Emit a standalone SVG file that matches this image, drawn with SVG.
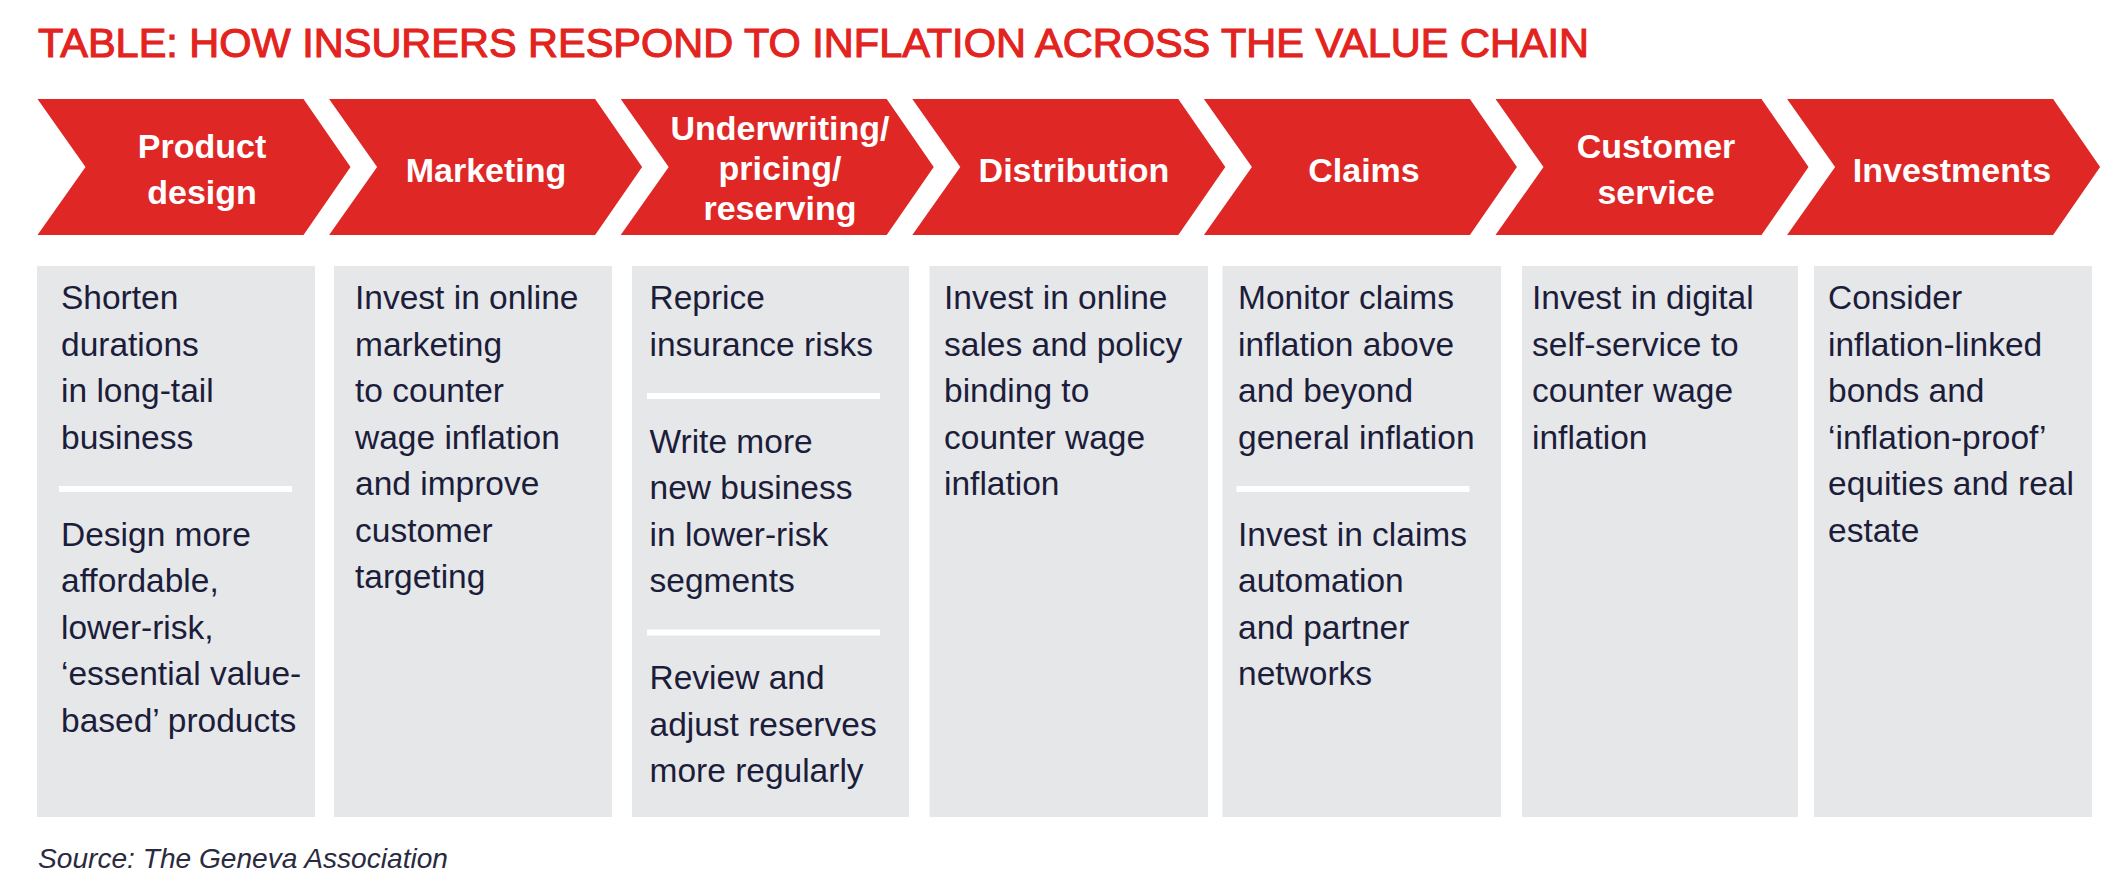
<svg xmlns="http://www.w3.org/2000/svg" width="2126" height="895" viewBox="0 0 2126 895">
<style>
.title{font-family:"Liberation Sans",Arial,sans-serif;font-size:41px;fill:#E2231E;stroke:#E2231E;stroke-width:1.1}
.chev{fill:#DF2726}
.lab{font-family:"Liberation Sans",Arial,sans-serif;font-size:34px;font-weight:bold;fill:#FFFFFF;text-anchor:middle}
.box{fill:#E6E7E8}
.txt{font-family:"Liberation Sans",Arial,sans-serif;font-size:33.5px;fill:#1C1D3B}
.sep{fill:#FFFFFF}
.src{font-family:"Liberation Sans",Arial,sans-serif;font-size:28px;font-style:italic;fill:#2A2B40}
</style>
<rect width="2126" height="895" fill="#FFFFFF"/>
<text class="title" x="38" y="57" textLength="1551" lengthAdjust="spacingAndGlyphs">TABLE: HOW INSURERS RESPOND TO INFLATION ACROSS THE VALUE CHAIN</text>

<g id="col1">
<path class="chev" d="M37.5,99 H303.5 L350.5,167 L303.5,235 H37.5 L85.5,167 Z"/>
<text class="lab" x="202" y="158">Product</text>
<text class="lab" x="202" y="204">design</text>
<rect class="box" x="37" y="266" width="278" height="551"/>
<text class="txt" x="61" y="309">Shorten</text>
<text class="txt" x="61" y="355.5">durations</text>
<text class="txt" x="61" y="402">in long-tail</text>
<text class="txt" x="61" y="448.5">business</text>
<rect class="sep" x="59" y="486" width="233" height="6"/>
<text class="txt" x="61" y="545.5">Design more</text>
<text class="txt" x="61" y="592">affordable,</text>
<text class="txt" x="61" y="638.5">lower-risk,</text>
<text class="txt" x="61" y="685">‘essential value-</text>
<text class="txt" x="61" y="731.5">based’ products</text>
</g>

<g id="col2">
<path class="chev" d="M329.1,99 H595.1 L642.1,167 L595.1,235 H329.1 L377.1,167 Z"/>
<text class="lab" x="486" y="182">Marketing</text>
<rect class="box" x="334" y="266" width="278" height="551"/>
<text class="txt" x="355" y="309">Invest in online</text>
<text class="txt" x="355" y="355.5">marketing</text>
<text class="txt" x="355" y="402">to counter</text>
<text class="txt" x="355" y="448.5">wage inflation</text>
<text class="txt" x="355" y="495">and improve</text>
<text class="txt" x="355" y="541.5">customer</text>
<text class="txt" x="355" y="588">targeting</text>
</g>

<g id="col3">
<path class="chev" d="M620.7,99 H886.7 L933.7,167 L886.7,235 H620.7 L668.7,167 Z"/>
<text class="lab" x="780" y="140">Underwriting/</text>
<text class="lab" x="780" y="180">pricing/</text>
<text class="lab" x="780" y="220">reserving</text>
<rect class="box" x="632" y="266" width="277" height="551"/>
<text class="txt" x="649.5" y="309">Reprice</text>
<text class="txt" x="649.5" y="355.5">insurance risks</text>
<rect class="sep" x="647" y="393" width="233" height="6"/>
<text class="txt" x="649.5" y="452.5">Write more</text>
<text class="txt" x="649.5" y="499">new business</text>
<text class="txt" x="649.5" y="545.5">in lower-risk</text>
<text class="txt" x="649.5" y="592">segments</text>
<rect class="sep" x="647" y="629.5" width="233" height="6"/>
<text class="txt" x="649.5" y="689">Review and</text>
<text class="txt" x="649.5" y="735.5">adjust reserves</text>
<text class="txt" x="649.5" y="782">more regularly</text>
</g>

<g id="col4">
<path class="chev" d="M912.3,99 H1178.3 L1225.3,167 L1178.3,235 H912.3 L960.3,167 Z"/>
<text class="lab" x="1074" y="182">Distribution</text>
<rect class="box" x="929.5" y="266" width="278.5" height="551"/>
<text class="txt" x="944" y="309">Invest in online</text>
<text class="txt" x="944" y="355.5">sales and policy</text>
<text class="txt" x="944" y="402">binding to</text>
<text class="txt" x="944" y="448.5">counter wage</text>
<text class="txt" x="944" y="495">inflation</text>
</g>

<g id="col5">
<path class="chev" d="M1203.9,99 H1469.9 L1516.9,167 L1469.9,235 H1203.9 L1251.9,167 Z"/>
<text class="lab" x="1364" y="182">Claims</text>
<rect class="box" x="1222.5" y="266" width="278.5" height="551"/>
<text class="txt" x="1238" y="309">Monitor claims</text>
<text class="txt" x="1238" y="355.5">inflation above</text>
<text class="txt" x="1238" y="402">and beyond</text>
<text class="txt" x="1238" y="448.5">general inflation</text>
<rect class="sep" x="1236.5" y="486" width="233" height="6"/>
<text class="txt" x="1238" y="545.5">Invest in claims</text>
<text class="txt" x="1238" y="592">automation</text>
<text class="txt" x="1238" y="638.5">and partner</text>
<text class="txt" x="1238" y="685">networks</text>
</g>

<g id="col6">
<path class="chev" d="M1495.5,99 H1761.5 L1808.5,167 L1761.5,235 H1495.5 L1543.5,167 Z"/>
<text class="lab" x="1656" y="158">Customer</text>
<text class="lab" x="1656" y="204">service</text>
<rect class="box" x="1522" y="266" width="276" height="551"/>
<text class="txt" x="1532" y="309">Invest in digital</text>
<text class="txt" x="1532" y="355.5">self-service to</text>
<text class="txt" x="1532" y="402">counter wage</text>
<text class="txt" x="1532" y="448.5">inflation</text>
</g>

<g id="col7">
<path class="chev" d="M1787.1,99 H2053.1 L2100.1,167 L2053.1,235 H1787.1 L1835.1,167 Z"/>
<text class="lab" x="1952" y="182">Investments</text>
<rect class="box" x="1814" y="266" width="278" height="551"/>
<text class="txt" x="1828" y="309">Consider</text>
<text class="txt" x="1828" y="355.5">inflation-linked</text>
<text class="txt" x="1828" y="402">bonds and</text>
<text class="txt" x="1828" y="448.5">‘inflation-proof’</text>
<text class="txt" x="1828" y="495">equities and real</text>
<text class="txt" x="1828" y="541.5">estate</text>
</g>

<g id="connectors"></g>

<text class="src" x="38" y="868" textLength="410" lengthAdjust="spacingAndGlyphs">Source: The Geneva Association</text>
</svg>
